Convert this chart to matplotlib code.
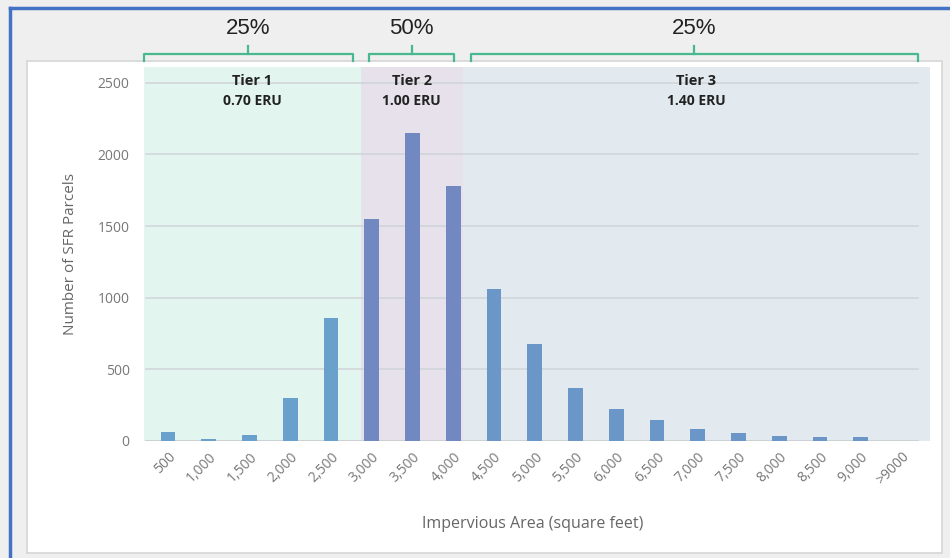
import numpy as np
import matplotlib
matplotlib.use("Agg")
import matplotlib.pyplot as plt
from matplotlib.patches import Rectangle

# data
sizes = ["500", "1,000", "1,500", "2,000", "2,500", "3,000", "3,500", "4,000", "4,500",
         "5,000", "5,500", "6,000", "6,500", "7,000", "7,500", "8,000", "8,500", "9,000", ">9000"]
parcels = [65, 15, 45, 300, 855, 1550, 2150, 1780, 1060, 680, 370, 220, 145, 85, 55, 35, 30, 30, 0]
tier_names = ["Tier 1\n0.70 ERU", "Tier 2\n1.00 ERU", "Tier 3\n1.40 ERU"]
tier_edges = [-0.6, 4.73, 7.23, 18.7]
tier_share = ["25%", "50%", "25%"]
tier_bg = ["#e2f5ef", "#e6e1ea", "#e2eaf0"]
bar_cols = ["#6aa0cc", "#7189c0", "#6b97c8"]

plt.rcParams['font.family'] = ['Open Sans', 'DejaVu Sans']

fig = plt.figure(figsize=(9.5, 5.58), dpi=100)
fig.patch.set_facecolor("#efefef")

# white chart panel and blue frame
fig.patches.append(Rectangle((27/950, 1-553/558), (942-27)/950, (553-61)/558,
                             transform=fig.transFigure, facecolor="white",
                             edgecolor="#d6d6d6", lw=1.2, zorder=-5))
fig.add_artist(plt.Line2D([10/950, 10/950], [0, 1-8/558], transform=fig.transFigure,
                          color="#4472c4", lw=2.5))
fig.add_artist(plt.Line2D([10/950, 1], [1-8/558, 1-8/558], transform=fig.transFigure,
                          color="#4472c4", lw=2.5))

ax = fig.add_axes([143.5/950, 1-441/558, (930-143.5)/950, (441-67)/558])
ax.set_facecolor("none")
x = np.arange(len(sizes))
ax.set_xlim(tier_edges[0], tier_edges[-1])
ax.set_ylim(0, 2610)

for i in range(3):
    ax.axvspan(tier_edges[i], tier_edges[i+1], color=tier_bg[i], zorder=0, lw=0)
    mid = (tier_edges[i] + tier_edges[i+1]) / 2
    name, eru = tier_names[i].split("\n")
    ax.text(mid, 2515, name, ha="center", va="center", fontsize=10.5, fontweight="bold",
            color="#222222")
    ax.text(mid, 2370, eru, ha="center", va="center", fontsize=10, fontweight="bold",
            color="#222222")

for yv in [500, 1000, 1500, 2000, 2500]:
    ax.plot([tier_edges[0] + 0.05, 18.4], [yv, yv], color="#d0d6da", lw=1.2, zorder=1)
ax.plot([tier_edges[0] + 0.05, 18.4], [0, 0], color="#c8cccf", lw=1.2, zorder=1)

cols = [bar_cols[0] if xi < tier_edges[1] else bar_cols[1] if xi < tier_edges[2] else bar_cols[2] for xi in x]
ax.bar(x, parcels, width=0.36, color=cols, zorder=2)

ax.set_xticks(x)
ax.set_xticklabels(sizes, rotation=45, ha="right", rotation_mode="anchor", color="#777777", fontsize=10)
ax.set_yticks([0, 500, 1000, 1500, 2000, 2500])
ax.tick_params(axis="y", colors="#777777", labelsize=10, length=0, pad=10)
ax.tick_params(axis="x", length=0, pad=6)
for s in ax.spines.values():
    s.set_visible(False)
ax.set_ylabel("Number of SFR Parcels", color="#666666", fontsize=11, labelpad=14)
ax.set_xlabel("Impervious Area (square feet)", color="#666666", fontsize=11.5, labelpad=10)
ax.xaxis.set_label_coords(0.495, -0.2)

# brackets above the tiers
green = "#48b88f"
trans = ax.get_xaxis_transform()
for i in range(3):
    x0 = tier_edges[i] + (0.0 if i == 0 else 0.2)
    x1 = tier_edges[i+1] - (0.2 if i < 2 else 0.3)
    yb, yt = 1.016, 1.035
    ax.plot([x0, x0, x1, x1], [yb, yt, yt, yb], color=green, lw=1.6, transform=trans, clip_on=False)
    mid = (x0 + x1) / 2
    ax.plot([mid, mid], [yt, yt + 0.022], color=green, lw=1.6, transform=trans, clip_on=False)
    ax.text(mid, 1.104, tier_share[i], ha="center", va="center", fontsize=16, color="#222222",
            transform=trans, family=["Liberation Sans", "DejaVu Sans"])

fig.savefig("out.png", dpi=100, facecolor=fig.get_facecolor())
